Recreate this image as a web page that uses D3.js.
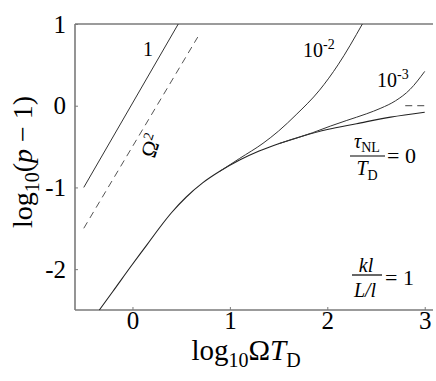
<!DOCTYPE html>
<html>
<head>
<meta charset="utf-8">
<script src="https://cdn.jsdelivr.net/npm/d3@7"></script>
<style>
  body { margin: 0; background: #fff; }
  svg { display: block; }
  svg text { font-family: 'Liberation Serif', 'Times New Roman', serif; }
</style>
</head>
<body>
<svg id="chart" width="436" height="381"></svg>
<script>
// tick values
const xTicks = [0, 1, 2, 3];
const yTicks = [-2, -1, 0, 1];

// tau_NL / T_D = 0 curve
const baseX = [-0.34, -0.2, 0.0, 0.15, 0.28, 0.4, 0.55, 0.72, 0.9, 1.1, 1.3, 1.5, 1.75, 2.0, 2.3, 2.65, 3.0];
const baseY = [-2.5, -2.27, -1.94, -1.70, -1.49, -1.31, -1.12, -0.945, -0.80, -0.665, -0.555, -0.465, -0.37, -0.29, -0.22, -0.14, -0.08];

// tau_NL / T_D = 1e-2 branch
const c2X = [0.9, 1.1, 1.34, 1.5, 1.68, 1.92, 2.11, 2.36];
const c2Y = [-0.80, -0.645, -0.46, -0.31, -0.11, 0.19, 0.50, 1.0];

// tau_NL / T_D = 1e-3 branch
const c3X = [1.5, 1.85, 2.03, 2.2, 2.4, 2.55, 2.7, 2.85, 3.0];
const c3Y = [-0.465, -0.33, -0.25, -0.18, -0.10, -0.03, 0.06, 0.20, 0.42];

// tau_NL / T_D = 1 line
const oneX = [-0.5, 0.47];
const oneY = [-1.0, 1.0];

// Omega^2 reference (dashed)
const omX = [-0.5, 0.67];
const omY = [-1.5, 0.84];

// asymptote dash at right
const asX = [2.8, 3.0];
const asY = [0.0, 0.0];

const svg = d3.select('#chart');
const mLeft = 75, mRight = 433, mTop = 24, mBottom = 310;

const x = d3.scaleLinear().domain([-0.59, 3.085]).range([mLeft, mRight]);
const y = d3.scaleLinear().domain([-2.5, 1]).range([mBottom, mTop]);

const zip = (xs, ys) => xs.map((v, i) => [v, ys[i]]);
const line = d3.line().x(d => x(d[0])).y(d => y(d[1])).curve(d3.curveMonotoneX);

// frame
const axisColor = '#7a7a7a';
svg.append('line').attr('x1', mLeft).attr('x2', mRight).attr('y1', mTop).attr('y2', mTop)
    .attr('stroke', axisColor).attr('stroke-width', 1.6);

let xAxis = svg.append('g')
    .attr('transform', `translate(0,${mBottom})`)
    .call(d3.axisBottom(x).tickValues(xTicks).tickSize(-3).tickPadding(1).tickFormat(d3.format('d')));
let yAxis = svg.append('g')
    .attr('transform', `translate(${mLeft},0)`)
    .call(d3.axisLeft(y).tickValues(yTicks).tickSize(-3).tickPadding(9).tickFormat(d => d < 0 ? '-' + Math.abs(d) : d));

for (let ax of [xAxis, yAxis]) {
    ax.attr('font-family', null);
    ax.select('.domain').attr('stroke', axisColor).attr('stroke-width', 1.6);
    ax.selectAll('.tick line').attr('stroke', axisColor);
    ax.selectAll('.tick text').attr('font-size', 25).attr('fill', '#000');
}
xAxis.select('.domain').attr('d', `M${mLeft},0H${mRight}`);
yAxis.select('.domain').attr('d', `M0,${mTop}V${mBottom}`);

// curves
const plot = svg.append('g');
plot.append('path').datum(zip(baseX, baseY)).attr('d', line)
    .attr('fill', 'none').attr('stroke', '#222').attr('stroke-width', 1.1);
plot.append('path').datum(zip(c2X, c2Y)).attr('d', line)
    .attr('fill', 'none').attr('stroke', '#333').attr('stroke-width', 1);
plot.append('path').datum(zip(c3X, c3Y)).attr('d', line)
    .attr('fill', 'none').attr('stroke', '#333').attr('stroke-width', 1);
plot.append('path').datum(zip(oneX, oneY)).attr('d', line)
    .attr('fill', 'none').attr('stroke', '#333').attr('stroke-width', 1);
plot.append('path').datum(zip(omX, omY)).attr('d', line)
    .attr('fill', 'none').attr('stroke', '#555').attr('stroke-width', 1).attr('stroke-dasharray', '7,5');
plot.append('path').datum(zip(asX, asY)).attr('d', line)
    .attr('fill', 'none').attr('stroke', '#444').attr('stroke-width', 1).attr('stroke-dasharray', '7,5');

// curve labels
svg.append('text').attr('x', 148).attr('y', 56).attr('font-size', 20).attr('text-anchor', 'middle').text('1');

let t2 = svg.append('text').attr('x', 303).attr('y', 57).attr('font-size', 20);
t2.append('tspan').text('10');
t2.append('tspan').attr('font-size', 14).attr('dy', -8).text('-2');

let t3 = svg.append('text').attr('x', 377).attr('y', 87).attr('font-size', 20);
t3.append('tspan').text('10');
t3.append('tspan').attr('font-size', 14).attr('dy', -8).text('-3');

let om = svg.append('text').attr('transform', 'translate(158,148) rotate(-72)')
    .attr('font-size', 22).attr('text-anchor', 'middle');
om.append('tspan').text('Ω');
om.append('tspan').attr('font-size', 14).attr('dy', -8).text('2');

// tau_NL / T_D = 0
let fr1 = svg.append('g');
let n1 = fr1.append('text').attr('x', 367).attr('y', 148).attr('text-anchor', 'middle').attr('font-size', 20);
n1.append('tspan').attr('font-style', 'italic').text('τ');
n1.append('tspan').attr('font-size', 14).attr('dy', 4).text('NL');
fr1.append('line').attr('x1', 350).attr('x2', 385).attr('y1', 156).attr('y2', 156).attr('stroke', '#000').attr('stroke-width', 1.2);
let d1 = fr1.append('text').attr('x', 367).attr('y', 175).attr('text-anchor', 'middle').attr('font-size', 20);
d1.append('tspan').attr('font-style', 'italic').text('T');
d1.append('tspan').attr('font-size', 14).attr('dy', 5).text('D');
fr1.append('text').attr('x', 387).attr('y', 163).attr('font-size', 22).text('= 0');

// kl / (L/l) = 1
let fr2 = svg.append('g');
fr2.append('text').attr('x', 366).attr('y', 272).attr('text-anchor', 'middle').attr('font-size', 20)
    .attr('font-style', 'italic').text('kl');
fr2.append('line').attr('x1', 352).attr('x2', 382).attr('y1', 275).attr('y2', 275).attr('stroke', '#000').attr('stroke-width', 1.2);
fr2.append('text').attr('x', 365).attr('y', 297).attr('text-anchor', 'middle').attr('font-size', 20)
    .attr('font-style', 'italic').text('L/l');
fr2.append('text').attr('x', 385).attr('y', 285).attr('font-size', 22).text('= 1');

// axis titles
let xl = svg.append('text').attr('x', 246).attr('y', 360).attr('text-anchor', 'middle').attr('font-size', 29);
xl.append('tspan').text('log');
xl.append('tspan').attr('font-size', 20).attr('dy', 7).text('10');
xl.append('tspan').attr('dy', -7).text('Ω');
xl.append('tspan').attr('font-style', 'italic').text('T');
xl.append('tspan').attr('font-size', 20).attr('dy', 7).text('D');

let yl = svg.append('text').attr('transform', 'translate(32,162) rotate(-90)')
    .attr('text-anchor', 'middle').attr('font-size', 28);
yl.append('tspan').text('log');
yl.append('tspan').attr('font-size', 20).attr('dy', 7).text('10');
yl.append('tspan').attr('dy', -7).text('(');
yl.append('tspan').attr('font-style', 'italic').text('p');
yl.append('tspan').text(' − 1)');
</script>
</body>
</html>
